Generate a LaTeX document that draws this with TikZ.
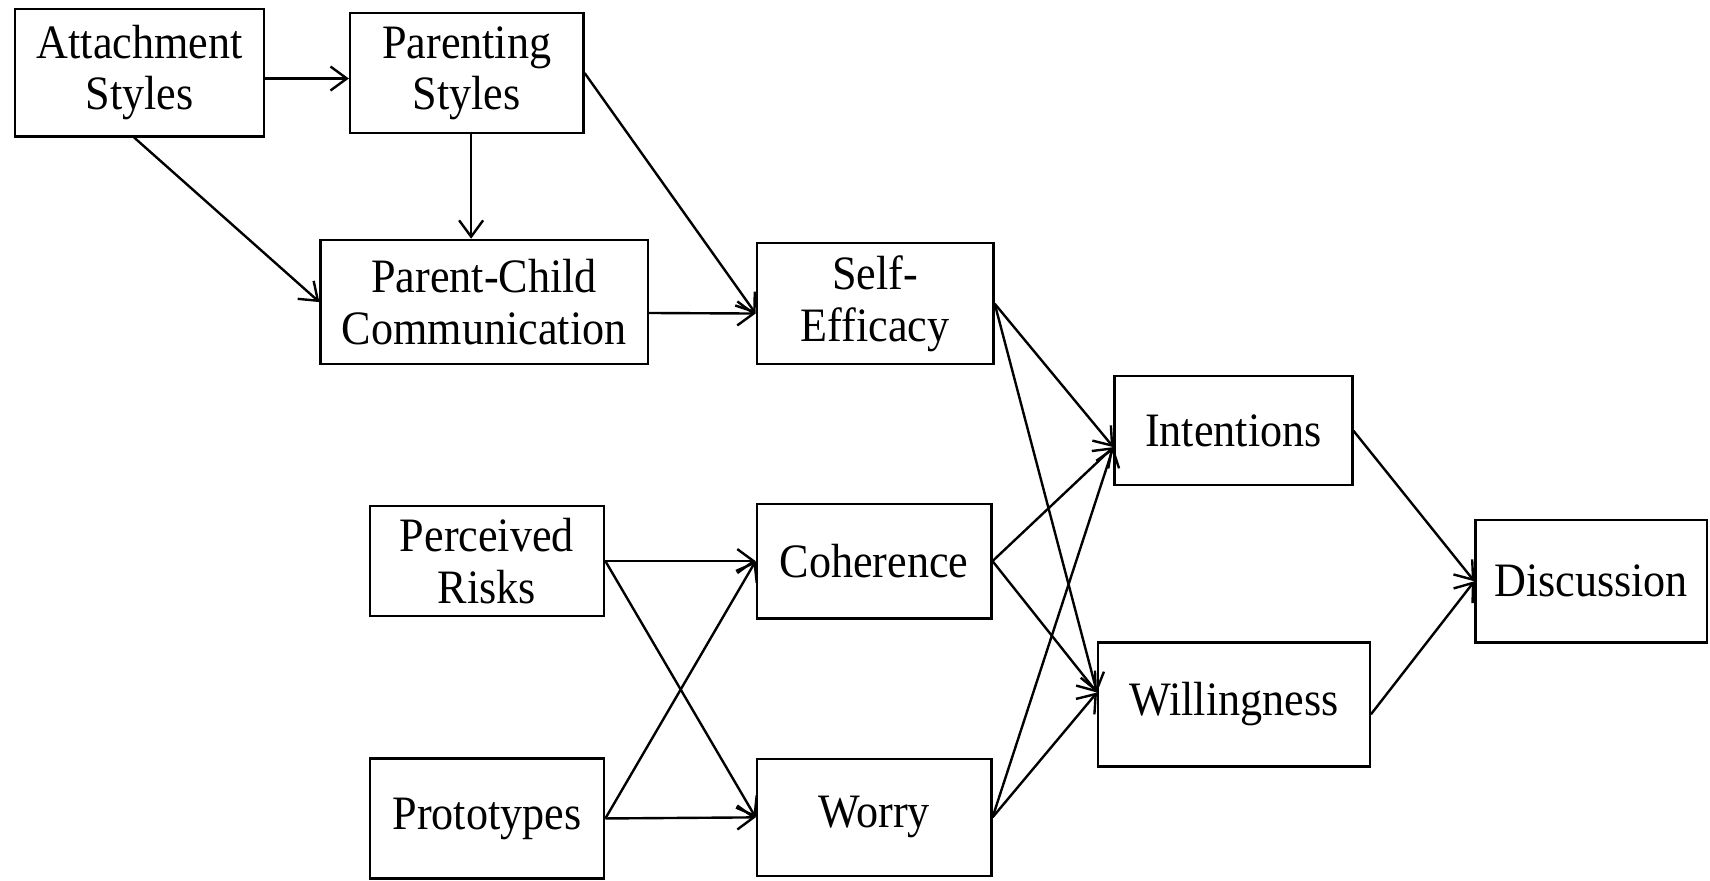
\documentclass[tikz,border=0pt]{standalone}
\usepackage{fontspec}
\setmainfont{Liberation Serif}[FakeStretch=0.92]
\usetikzlibrary{arrows.meta,calc}
\begin{document}
\begin{tikzpicture}[x=0.5pt,y=-0.5pt,
  box/.style={draw,line width=1.1pt,rectangle,inner sep=0pt,align=center,
    font=\fontsize{22pt}{23.5pt}\selectfont},
  arr/.style={line width=1.1pt,-{Straight Barb[length=7.5pt,width=11pt,line width=1.1pt]}}]
\useasboundingbox (0,0) rectangle (1568,807);
\node[box,minimum width=228pt*0.5,minimum height=117pt*0.5] (att) at (128,66.5) {Attachment\\Styles};
\node[box,minimum width=214pt*0.5,minimum height=110pt*0.5] (par) at (428,67) {Parenting\\Styles};
\node[box,minimum width=300pt*0.5,minimum height=114pt*0.5] (pcc) at (444,277) {Parent-Child\\Communication};
\node[box,minimum width=217pt*0.5,minimum height=111pt*0.5] (se) at (802.5,278.5) {Self-\\Efficacy};
\node[box,minimum width=218pt*0.5,minimum height=100pt*0.5] (int) at (1131,395) {Intentions};
\node[box,minimum width=215pt*0.5,minimum height=101pt*0.5] (pr) at (446.5,514.5) {Perceived\\Risks};
\node[box,minimum width=215pt*0.5,minimum height=105pt*0.5] (coh) at (801.5,514.5) {Coherence};
\node[box,minimum width=212pt*0.5,minimum height=112pt*0.5] (dis) at (1459,533) {Discussion};
\node[box,minimum width=249pt*0.5,minimum height=114pt*0.5] (wil) at (1131.5,646) {Willingness};
\node[box,minimum width=215pt*0.5,minimum height=110pt*0.5] (pro) at (446.5,750.5) {Prototypes};
\node[box,minimum width=215pt*0.5,minimum height=107pt*0.5] (wor) at (801.5,749.5) {Worry};
\coordinate (pardown) at ($(par.south)+(4,0)$);
% top cluster
\draw[arr] ($(att.east)+(0,5.5)$) -- ($(par.west)+(0,5)$);
\draw[arr] ($(att.south)+(-5,0)$) -- (pcc.west);
\draw[arr] (pardown) -- (pardown |- pcc.north);
\draw[arr] (par.east) -- ($(se.west)+(0,9)$);
\draw[arr] ($(pcc.east)+(0,10)$) -- ($(se.west)+(0,9)$);
% lower left
\draw[arr] (pr.east) -- (coh.west);
\draw[arr] (pr.east) -- (wor.west);
\draw[arr] (pro.east) -- (coh.west);
\draw[arr] (pro.east) -- (wor.west);
% middle to right
\draw[arr] (se.east) -- ($(int.west)+(0,15)$);
\draw[arr] (se.east) -- ($(wil.west)+(0,-11)$);
\draw[arr] (coh.east) -- ($(int.west)+(0,15)$);
\draw[arr] (coh.east) -- ($(wil.west)+(0,-11)$);
\draw[arr] (wor.east) -- ($(int.west)+(0,15)$);
\draw[arr] (wor.east) -- ($(wil.west)+(0,-11)$);
\draw[arr] (int.east) -- (dis.west);
\draw[arr] ($(wil.east)+(0,9)$) -- (dis.west);
\end{tikzpicture}
\end{document}
